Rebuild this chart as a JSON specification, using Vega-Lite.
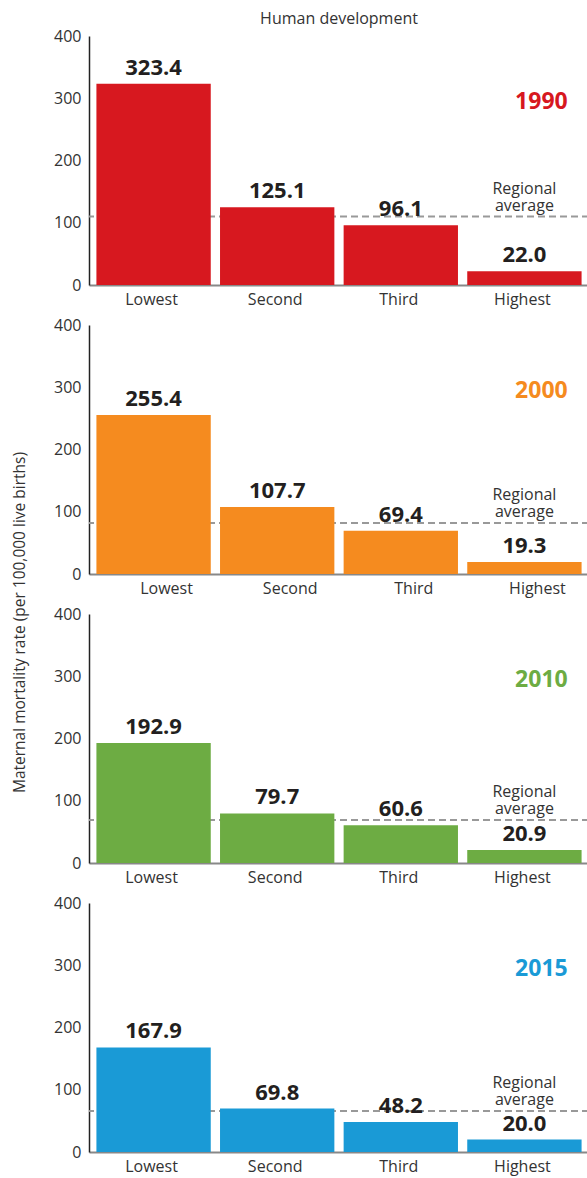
{
  "$schema": "https://vega.github.io/schema/vega-lite/v6.json",
  "padding": {"left": 12, "top": 11, "right": 0, "bottom": 26},
  "background": "white",
  "config": {
    "view": {"stroke": null},
    "font": "Open Sans",
    "axis": {"labelFont": "Open Sans", "titleFont": "Open Sans", "labelColor": "#333333", "titleColor": "#333333", "grid": false, "ticks": false, "labelFontSize": 16, "titleFontSize": 15.5, "titleFontWeight": "normal"},
    "title": {"font": "Open Sans", "fontSize": 16, "fontWeight": "normal", "color": "#333333"}
  },
  "datasets": {
    "bars": [
      {"year": "1990", "group": "Lowest", "value": 323.4},
      {"year": "1990", "group": "Second", "value": 125.1},
      {"year": "1990", "group": "Third", "value": 96.1},
      {"year": "1990", "group": "Highest", "value": 22.0},
      {"year": "2000", "group": "Lowest", "value": 255.4},
      {"year": "2000", "group": "Second", "value": 107.7},
      {"year": "2000", "group": "Third", "value": 69.4},
      {"year": "2000", "group": "Highest", "value": 19.3},
      {"year": "2010", "group": "Lowest", "value": 192.9},
      {"year": "2010", "group": "Second", "value": 79.7},
      {"year": "2010", "group": "Third", "value": 60.6},
      {"year": "2010", "group": "Highest", "value": 20.9},
      {"year": "2015", "group": "Lowest", "value": 167.9},
      {"year": "2015", "group": "Second", "value": 69.8},
      {"year": "2015", "group": "Third", "value": 48.2},
      {"year": "2015", "group": "Highest", "value": 20.0}
    ],
    "avg": [
      {"year": "1990", "group": "Highest", "avg": 110, "label": "Regional\naverage", "ylabel": 283},
      {"year": "2000", "group": "Highest", "avg": 82, "label": "Regional\naverage", "ylabel": 283},
      {"year": "2010", "group": "Highest", "avg": 69, "label": "Regional\naverage", "ylabel": 283},
      {"year": "2015", "group": "Highest", "avg": 66, "label": "Regional\naverage", "ylabel": 283}
    ]
  },
  "vconcat": [
    {
      "title": {"text": "Human development", "anchor": "middle", "frame": "group", "offset": 1},
      "width": 500, "height": 249,
      "layer": [
        {"data": {"name": "avg"}, "transform": [{"filter": "datum.year == '1990'"}], "mark": {"type": "rule", "color": "#999999", "strokeWidth": 2, "strokeDash": [7, 4]}, "encoding": {"y": {"field": "avg", "type": "quantitative", "scale": {"domain": [0, 400], "nice": false}}}},
        {"data": {"name": "bars"}, "transform": [{"filter": "datum.year == '1990'"}], "mark": {"type": "bar", "color": "#D7181F"},
          "encoding": {
            "x": {"field": "group", "type": "nominal", "sort": ["Lowest", "Second", "Third", "Highest"], "scale": {"paddingInner": 0.075, "paddingOuter": 0.06}, "axis": {"title": null, "labelAngle": 0, "domainColor": "#888888", "domainWidth": 2, "labelPadding": 6, "labelOffset": -2}},
            "y": {"field": "value", "type": "quantitative", "scale": {"domain": [0, 400], "nice": false}, "axis": {"title": null, "values": [0, 100, 200, 300, 400], "domainColor": "#222222", "domainWidth": 1.5, "labelPadding": 8}}
          }},
        {"data": {"name": "bars"}, "transform": [{"filter": "datum.year == '1990'"}], "mark": {"type": "text", "fontSize": 22, "fontWeight": "bold", "color": "#231F20", "baseline": "alphabetic", "dy": -9},
          "encoding": {"x": {"field": "group", "type": "nominal", "sort": ["Lowest", "Second", "Third", "Highest"]}, "y": {"field": "value", "type": "quantitative"}, "text": {"field": "value", "type": "quantitative", "format": ".1f"}}},
        {"data": {"name": "avg"}, "transform": [{"filter": "datum.year == '1990'"}], "mark": {"type": "text", "fontSize": 16, "color": "#333333", "baseline": "bottom", "lineBreak": "\n", "lineHeight": 17, "dy": -20},
          "encoding": {"x": {"field": "group", "type": "nominal", "sort": ["Lowest", "Second", "Third", "Highest"]}, "y": {"field": "avg", "type": "quantitative"}, "text": {"field": "label"}}},
        {"data": {"name": "avg"}, "transform": [{"filter": "datum.year == '1990'"}], "mark": {"type": "text", "fontSize": 23, "fontWeight": "bold", "color": "#D7181F", "baseline": "alphabetic", "dx": 17},
          "encoding": {"x": {"field": "group", "type": "nominal", "sort": ["Lowest", "Second", "Third", "Highest"]}, "y": {"field": "ylabel", "type": "quantitative"}, "text": {"field": "year"}}}
      ]
    },
    {
      "width": 500, "height": 249,
      "layer": [
        {"data": {"name": "avg"}, "transform": [{"filter": "datum.year == '2000'"}], "mark": {"type": "rule", "color": "#999999", "strokeWidth": 2, "strokeDash": [7, 4]}, "encoding": {"y": {"field": "avg", "type": "quantitative", "scale": {"domain": [0, 400], "nice": false}}}},
        {"data": {"name": "bars"}, "transform": [{"filter": "datum.year == '2000'"}], "mark": {"type": "bar", "color": "#F58B1F"},
          "encoding": {
            "x": {"field": "group", "type": "nominal", "sort": ["Lowest", "Second", "Third", "Highest"], "scale": {"paddingInner": 0.075, "paddingOuter": 0.06}, "axis": {"title": null, "labelAngle": 0, "domainColor": "#888888", "domainWidth": 2, "labelPadding": 6, "labelOffset": 13}},
            "y": {"field": "value", "type": "quantitative", "scale": {"domain": [0, 400], "nice": false}, "axis": {"title": "Maternal mortality rate (per 100,000 live births)", "titleX": -62, "titleY": 297, "values": [0, 100, 200, 300, 400], "domainColor": "#222222", "domainWidth": 1.5, "labelPadding": 8}}
          }},
        {"data": {"name": "bars"}, "transform": [{"filter": "datum.year == '2000'"}], "mark": {"type": "text", "fontSize": 22, "fontWeight": "bold", "color": "#231F20", "baseline": "alphabetic", "dy": -9},
          "encoding": {"x": {"field": "group", "type": "nominal", "sort": ["Lowest", "Second", "Third", "Highest"]}, "y": {"field": "value", "type": "quantitative"}, "text": {"field": "value", "type": "quantitative", "format": ".1f"}}},
        {"data": {"name": "avg"}, "transform": [{"filter": "datum.year == '2000'"}], "mark": {"type": "text", "fontSize": 16, "color": "#333333", "baseline": "bottom", "lineBreak": "\n", "lineHeight": 17, "dy": -20},
          "encoding": {"x": {"field": "group", "type": "nominal", "sort": ["Lowest", "Second", "Third", "Highest"]}, "y": {"field": "avg", "type": "quantitative"}, "text": {"field": "label"}}},
        {"data": {"name": "avg"}, "transform": [{"filter": "datum.year == '2000'"}], "mark": {"type": "text", "fontSize": 23, "fontWeight": "bold", "color": "#F58B1F", "baseline": "alphabetic", "dx": 17},
          "encoding": {"x": {"field": "group", "type": "nominal", "sort": ["Lowest", "Second", "Third", "Highest"]}, "y": {"field": "ylabel", "type": "quantitative"}, "text": {"field": "year"}}}
      ]
    },
    {
      "width": 500, "height": 249,
      "layer": [
        {"data": {"name": "avg"}, "transform": [{"filter": "datum.year == '2010'"}], "mark": {"type": "rule", "color": "#999999", "strokeWidth": 2, "strokeDash": [7, 4]}, "encoding": {"y": {"field": "avg", "type": "quantitative", "scale": {"domain": [0, 400], "nice": false}}}},
        {"data": {"name": "bars"}, "transform": [{"filter": "datum.year == '2010'"}], "mark": {"type": "bar", "color": "#6DAC43"},
          "encoding": {
            "x": {"field": "group", "type": "nominal", "sort": ["Lowest", "Second", "Third", "Highest"], "scale": {"paddingInner": 0.075, "paddingOuter": 0.06}, "axis": {"title": null, "labelAngle": 0, "domainColor": "#888888", "domainWidth": 2, "labelPadding": 6, "labelOffset": -2}},
            "y": {"field": "value", "type": "quantitative", "scale": {"domain": [0, 400], "nice": false}, "axis": {"title": null, "values": [0, 100, 200, 300, 400], "domainColor": "#222222", "domainWidth": 1.5, "labelPadding": 8}}
          }},
        {"data": {"name": "bars"}, "transform": [{"filter": "datum.year == '2010'"}], "mark": {"type": "text", "fontSize": 22, "fontWeight": "bold", "color": "#231F20", "baseline": "alphabetic", "dy": -9},
          "encoding": {"x": {"field": "group", "type": "nominal", "sort": ["Lowest", "Second", "Third", "Highest"]}, "y": {"field": "value", "type": "quantitative"}, "text": {"field": "value", "type": "quantitative", "format": ".1f"}}},
        {"data": {"name": "avg"}, "transform": [{"filter": "datum.year == '2010'"}], "mark": {"type": "text", "fontSize": 16, "color": "#333333", "baseline": "bottom", "lineBreak": "\n", "lineHeight": 17, "dy": -20},
          "encoding": {"x": {"field": "group", "type": "nominal", "sort": ["Lowest", "Second", "Third", "Highest"]}, "y": {"field": "avg", "type": "quantitative"}, "text": {"field": "label"}}},
        {"data": {"name": "avg"}, "transform": [{"filter": "datum.year == '2010'"}], "mark": {"type": "text", "fontSize": 23, "fontWeight": "bold", "color": "#6DAC43", "baseline": "alphabetic", "dx": 17},
          "encoding": {"x": {"field": "group", "type": "nominal", "sort": ["Lowest", "Second", "Third", "Highest"]}, "y": {"field": "ylabel", "type": "quantitative"}, "text": {"field": "year"}}}
      ]
    },
    {
      "width": 500, "height": 249,
      "layer": [
        {"data": {"name": "avg"}, "transform": [{"filter": "datum.year == '2015'"}], "mark": {"type": "rule", "color": "#999999", "strokeWidth": 2, "strokeDash": [7, 4]}, "encoding": {"y": {"field": "avg", "type": "quantitative", "scale": {"domain": [0, 400], "nice": false}}}},
        {"data": {"name": "bars"}, "transform": [{"filter": "datum.year == '2015'"}], "mark": {"type": "bar", "color": "#1A9AD6"},
          "encoding": {
            "x": {"field": "group", "type": "nominal", "sort": ["Lowest", "Second", "Third", "Highest"], "scale": {"paddingInner": 0.075, "paddingOuter": 0.06}, "axis": {"title": null, "labelAngle": 0, "domainColor": "#888888", "domainWidth": 2, "labelPadding": 6, "labelOffset": -2}},
            "y": {"field": "value", "type": "quantitative", "scale": {"domain": [0, 400], "nice": false}, "axis": {"title": null, "values": [0, 100, 200, 300, 400], "domainColor": "#222222", "domainWidth": 1.5, "labelPadding": 8}}
          }},
        {"data": {"name": "bars"}, "transform": [{"filter": "datum.year == '2015'"}], "mark": {"type": "text", "fontSize": 22, "fontWeight": "bold", "color": "#231F20", "baseline": "alphabetic", "dy": -9},
          "encoding": {"x": {"field": "group", "type": "nominal", "sort": ["Lowest", "Second", "Third", "Highest"]}, "y": {"field": "value", "type": "quantitative"}, "text": {"field": "value", "type": "quantitative", "format": ".1f"}}},
        {"data": {"name": "avg"}, "transform": [{"filter": "datum.year == '2015'"}], "mark": {"type": "text", "fontSize": 16, "color": "#333333", "baseline": "bottom", "lineBreak": "\n", "lineHeight": 17, "dy": -20},
          "encoding": {"x": {"field": "group", "type": "nominal", "sort": ["Lowest", "Second", "Third", "Highest"]}, "y": {"field": "avg", "type": "quantitative"}, "text": {"field": "label"}}},
        {"data": {"name": "avg"}, "transform": [{"filter": "datum.year == '2015'"}], "mark": {"type": "text", "fontSize": 23, "fontWeight": "bold", "color": "#1A9AD6", "baseline": "alphabetic", "dx": 17},
          "encoding": {"x": {"field": "group", "type": "nominal", "sort": ["Lowest", "Second", "Third", "Highest"]}, "y": {"field": "ylabel", "type": "quantitative"}, "text": {"field": "year"}}}
      ]
    }
  ],
  "spacing": 40,
  "bounds": "flush"
}
